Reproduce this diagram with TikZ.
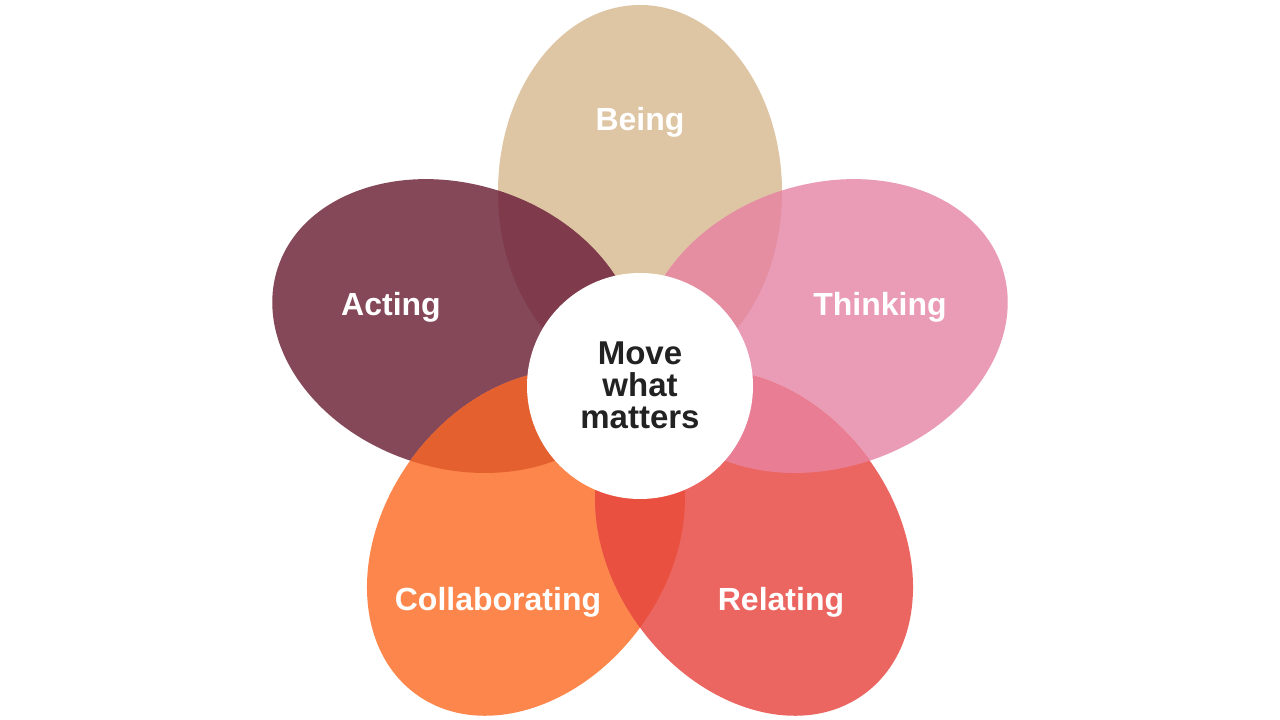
\documentclass[tikz,border=0pt]{standalone}
\usepackage{fontspec}
\setmainfont{Liberation Sans}
\definecolor{cBeing}{HTML}{DEC6A5}
\definecolor{cThinking}{HTML}{EA9BB5}
\definecolor{cActing}{HTML}{854859}
\definecolor{cCollab}{HTML}{FC864B}
\definecolor{cRelating}{HTML}{EC6661}
\definecolor{oBA}{HTML}{7F3B4B}
\definecolor{oBT}{HTML}{E58EA2}
\definecolor{oAC}{HTML}{E4612F}
\definecolor{oCR}{HTML}{EA5040}
\definecolor{oTR}{HTML}{E87D93}
\definecolor{cText}{HTML}{222222}
\tikzset{
  petal/.style={shift={(640pt,334pt)}, shift={(#1:194pt)}, rotate=#1},
  plabel/.style={text=white, font=\fontsize{32}{36}\selectfont\bfseries, inner sep=0pt},
}
\newcommand\petalpath{(0,0) ellipse [x radius=187pt, y radius=142pt]}
\begin{document}
\begin{tikzpicture}[x=1pt,y=1pt]
\useasboundingbox (0,0) rectangle (1280,720);
\fill[white] (0,0) rectangle (1280,720);
% petals
\fill[cBeing, petal=90] \petalpath;
\fill[cActing, petal=162] \petalpath;
\fill[cThinking, petal=18] \petalpath;
\fill[cCollab, petal=-126] \petalpath;
\fill[cRelating, petal=-54] \petalpath;
% overlaps
\begin{scope}\clip[petal=90] \petalpath; \fill[oBA, petal=162] \petalpath; \end{scope}
\begin{scope}\clip[petal=90] \petalpath; \fill[oBT, petal=18] \petalpath; \end{scope}
\begin{scope}\clip[petal=162] \petalpath; \fill[oAC, petal=-126] \petalpath; \end{scope}
\begin{scope}\clip[petal=-126] \petalpath; \fill[oCR, petal=-54] \petalpath; \end{scope}
\begin{scope}\clip[petal=18] \petalpath; \fill[oTR, petal=-54] \petalpath; \end{scope}
% centre
\node[circle, fill=white, minimum size=226pt, inner sep=0pt] (hub) at (640,334) {};
\node[text=cText, font=\fontsize{33}{32}\selectfont\bfseries, align=center, inner sep=0pt] (hubtext) at (640,335) {Move\\what\\matters};
% labels
\node[plabel] (being) at (640,598) {Being};
\node[plabel] (thinking) at (880,413) {Thinking};
\node[plabel] (acting) at (391,413) {Acting};
\node[plabel] (collab) at (498,118) {Collaborating};
\node[plabel] (relating) at (781,118) {Relating};
\end{tikzpicture}
\end{document}
